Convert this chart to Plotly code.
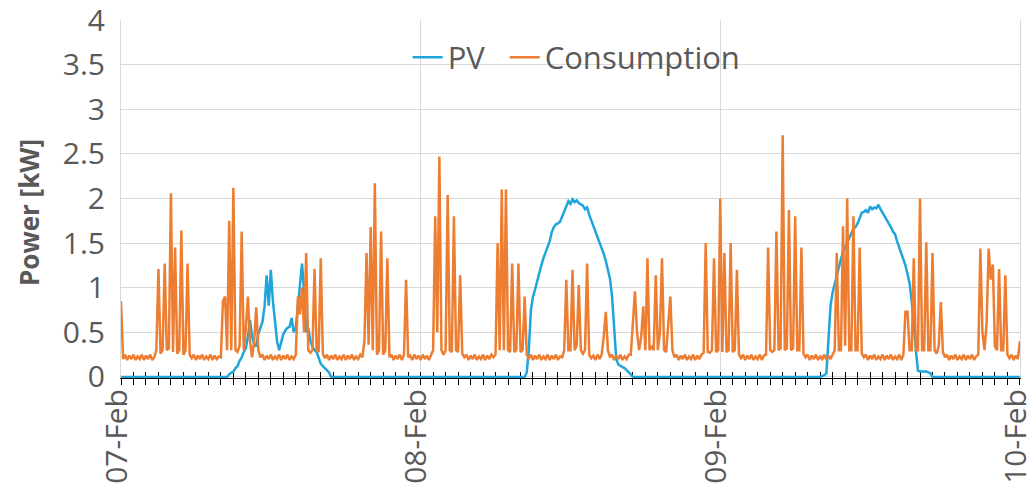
import pandas as pd
import plotly.graph_objects as go

# 10-minute samples from 07-Feb 00:00 to 10-Feb 00:00
times = pd.date_range("2021-02-07 00:00", "2021-02-10 00:00", freq="10min")

# Consumption [kW], one row per hour (6 values)
consumption = [
    # 07-Feb
    0.85, 0.20, 0.25, 0.19, 0.24, 0.20,
    0.25, 0.19, 0.23, 0.20, 0.25, 0.19,
    0.24, 0.20, 0.25, 0.19, 0.22, 0.30,
    1.21, 0.26, 0.30, 1.27, 0.30, 0.32,
    2.06, 0.28, 1.45, 0.26, 0.30, 1.64,
    0.25, 0.30, 1.27, 0.25, 0.21, 0.25,
    0.19, 0.24, 0.20, 0.25, 0.19, 0.23,
    0.20, 0.25, 0.19, 0.24, 0.20, 0.23,
    0.22, 0.85, 0.90, 0.30, 1.75, 0.30,
    2.12, 0.30, 0.28, 0.35, 1.63, 0.30,
    0.55, 0.90, 0.40, 0.22, 0.40, 0.78,
    0.30, 0.22, 0.25, 0.19, 0.24, 0.20,
    0.25, 0.19, 0.23, 0.20, 0.25, 0.19,
    0.24, 0.20, 0.25, 0.19, 0.23, 0.20,
    0.25, 0.90, 0.70, 1.00, 0.50, 1.39,
    0.30, 0.27, 0.30, 1.21, 0.30, 0.28,
    1.33, 0.26, 0.21, 0.25, 0.19, 0.24,
    0.20, 0.25, 0.19, 0.23, 0.20, 0.25,
    0.19, 0.24, 0.20, 0.25, 0.19, 0.23,
    0.20, 0.25, 0.22, 0.40, 1.39, 0.36,
    1.68, 0.30, 2.17, 0.25, 0.30, 1.63,
    0.25, 0.30, 1.33, 0.22, 0.25, 0.19,
    0.24, 0.20, 0.25, 0.19, 0.25, 1.09,
    0.22, 0.24, 0.19, 0.25, 0.20, 0.24,
    # 08-Feb
    0.19, 0.25, 0.20, 0.24, 0.19, 0.25,
    0.30, 1.80, 0.50, 2.47, 0.30, 0.25,
    0.30, 2.04, 0.30, 0.28, 1.80, 0.30,
    0.28, 1.14, 0.26, 0.22, 0.25, 0.19,
    0.24, 0.20, 0.25, 0.19, 0.23, 0.20,
    0.25, 0.19, 0.24, 0.20, 0.25, 0.22,
    0.25, 1.50, 0.30, 2.10, 0.30, 2.10,
    0.30, 0.28, 1.27, 0.28, 0.30, 1.27,
    0.28, 0.30, 0.90, 0.25, 0.21, 0.25,
    0.19, 0.24, 0.20, 0.25, 0.19, 0.23,
    0.20, 0.25, 0.19, 0.24, 0.20, 0.25,
    0.19, 0.23, 0.22, 0.30, 1.09, 0.30,
    0.30, 1.20, 0.30, 0.35, 1.03, 0.30,
    0.26, 0.30, 1.27, 0.25, 0.21, 0.24,
    0.19, 0.25, 0.20, 0.25, 0.45, 0.73,
    0.30, 0.22, 0.25, 0.19, 0.24, 0.20,
    0.25, 0.19, 0.23, 0.20, 0.25, 0.25,
    0.60, 0.96, 0.50, 0.30, 0.45, 0.79,
    0.30, 1.33, 0.30, 0.35, 0.30, 1.14,
    0.30, 0.50, 1.33, 0.30, 0.28, 0.60,
    0.90, 0.30, 0.22, 0.25, 0.19, 0.24,
    0.20, 0.25, 0.19, 0.23, 0.20, 0.25,
    0.19, 0.24, 0.20, 0.25, 0.27, 1.50,
    0.28, 0.27, 0.30, 1.33, 0.28, 0.30,
    # 09-Feb
    2.00, 0.28, 1.39, 0.28, 0.30, 1.50,
    0.28, 0.30, 1.20, 0.25, 0.21, 0.25,
    0.19, 0.24, 0.20, 0.25, 0.19, 0.23,
    0.20, 0.25, 0.19, 0.24, 0.25, 1.45,
    0.30, 0.28, 0.30, 1.63, 0.30, 0.32,
    2.71, 0.30, 0.32, 1.87, 0.30, 0.32,
    1.80, 0.30, 0.30, 1.45, 0.26, 0.22,
    0.25, 0.19, 0.24, 0.20, 0.25, 0.19,
    0.23, 0.20, 0.25, 0.19, 0.24, 0.20,
    0.25, 0.30, 1.39, 0.30, 0.30, 1.69,
    0.35, 2.00, 0.30, 0.30, 1.80, 0.30,
    0.30, 1.45, 0.26, 0.22, 0.25, 0.19,
    0.24, 0.20, 0.25, 0.19, 0.23, 0.20,
    0.25, 0.19, 0.24, 0.20, 0.25, 0.19,
    0.23, 0.20, 0.25, 0.19, 0.25, 0.73,
    0.73, 0.30, 0.30, 1.33, 0.30, 0.30,
    2.00, 0.30, 0.30, 1.51, 0.30, 0.30,
    1.39, 0.30, 0.26, 0.35, 0.84, 0.28,
    0.22, 0.25, 0.19, 0.24, 0.20, 0.25,
    0.19, 0.23, 0.20, 0.25, 0.19, 0.24,
    0.20, 0.25, 0.19, 0.23, 0.25, 1.44,
    0.50, 0.30, 0.60, 1.44, 1.09, 1.26,
    0.34, 0.30, 1.21, 0.30, 0.30, 1.14,
    0.25, 0.21, 0.25, 0.19, 0.24, 0.20,
    # 10-Feb 00:00
    0.40,
]

# PV generation [kW], one row per hour (6 values)
pv = [
    # 07-Feb
    0, 0, 0, 0, 0, 0,
    0, 0, 0, 0, 0, 0,
    0, 0, 0, 0, 0, 0,
    0, 0, 0, 0, 0, 0,
    0, 0, 0, 0, 0, 0,
    0, 0, 0, 0, 0, 0,
    0, 0, 0, 0, 0, 0,
    0, 0, 0, 0, 0, 0,
    0, 0, 0, 0, 0.03, 0.05,
    0.06, 0.10, 0.12, 0.18, 0.22, 0.28,
    0.32, 0.45, 0.64, 0.45, 0.37, 0.34,
    0.48, 0.55, 0.62, 0.79, 1.14, 0.80,
    1.20, 0.85, 0.60, 0.40, 0.30, 0.38,
    0.48, 0.52, 0.55, 0.56, 0.66, 0.50,
    0.55, 0.79, 1.05, 1.27, 0.95, 0.50,
    0.55, 0.40, 0.34, 0.30, 0.28, 0.20,
    0.15, 0.12, 0.10, 0.08, 0.05, 0,
    0, 0, 0, 0, 0, 0,
    0, 0, 0, 0, 0, 0,
    0, 0, 0, 0, 0, 0,
    0, 0, 0, 0, 0, 0,
    0, 0, 0, 0, 0, 0,
    0, 0, 0, 0, 0, 0,
    0, 0, 0, 0, 0, 0,
    # 08-Feb
    0, 0, 0, 0, 0, 0,
    0, 0, 0, 0, 0, 0,
    0, 0, 0, 0, 0, 0,
    0, 0, 0, 0, 0, 0,
    0, 0, 0, 0, 0, 0,
    0, 0, 0, 0, 0, 0,
    0, 0, 0, 0, 0, 0,
    0, 0, 0, 0, 0, 0,
    0, 0, 0, 0.05, 0.30, 0.75,
    0.90, 0.98, 1.08, 1.18, 1.25, 1.33,
    1.40, 1.45, 1.52, 1.62, 1.68, 1.71,
    1.72, 1.74, 1.80, 1.86, 1.90, 1.97,
    1.94, 1.99, 1.96, 1.98, 1.95, 1.93,
    1.92, 1.88, 1.90, 1.82, 1.76, 1.70,
    1.64, 1.58, 1.50, 1.45, 1.38, 1.30,
    1.20, 1.10, 0.90, 0.60, 0.20, 0.14,
    0.12, 0.11, 0.10, 0.08, 0.06, 0.03,
    0, 0, 0, 0, 0, 0,
    0, 0, 0, 0, 0, 0,
    0, 0, 0, 0, 0, 0,
    0, 0, 0, 0, 0, 0,
    0, 0, 0, 0, 0, 0,
    0, 0, 0, 0, 0, 0,
    0, 0, 0, 0, 0, 0,
    # 09-Feb
    0, 0, 0, 0, 0, 0,
    0, 0, 0, 0, 0, 0,
    0, 0, 0, 0, 0, 0,
    0, 0, 0, 0, 0, 0,
    0, 0, 0, 0, 0, 0,
    0, 0, 0, 0, 0, 0,
    0, 0, 0, 0, 0, 0,
    0, 0, 0, 0, 0, 0,
    0, 0.01, 0.02, 0.04, 0.50, 0.80,
    0.95, 1.05, 1.15, 1.25, 1.32, 1.40,
    1.45, 1.50, 1.57, 1.62, 1.66, 1.68,
    1.72, 1.78, 1.84, 1.85, 1.87, 1.84,
    1.91, 1.88, 1.90, 1.89, 1.93, 1.88,
    1.84, 1.80, 1.77, 1.72, 1.68, 1.63,
    1.60, 1.52, 1.45, 1.38, 1.30, 1.25,
    1.15, 1.05, 0.85, 0.55, 0.30, 0.07,
    0.06, 0.06, 0.06, 0.06, 0.05, 0.04,
    0, 0, 0, 0, 0, 0,
    0, 0, 0, 0, 0, 0,
    0, 0, 0, 0, 0, 0,
    0, 0, 0, 0, 0, 0,
    0, 0, 0, 0, 0, 0,
    0, 0, 0, 0, 0, 0,
    0, 0, 0, 0, 0, 0,
    # 10-Feb 00:00
    0,
]

series_names = ["PV", "Consumption"]
x_range = ["2021-02-07 00:00:00", "2021-02-10 00:00:30"]
y_range = [-0.012, 4.001]
y_title = "Power [kW]"

BLUE = "#1ea5dc"
ORANGE = "#ed7d31"
GREY_TEXT = "#595959"
GRID = "#d9d9d9"
FONT = "Open Sans"

fig = go.Figure()
fig.add_trace(go.Scatter(x=times, y=pv, name=series_names[0], mode="lines",
                         line=dict(color=BLUE, width=2.5), legend="legend"))
fig.add_trace(go.Scatter(x=times, y=consumption, name=series_names[1], mode="lines",
                         line=dict(color=ORANGE, width=2.5), legend="legend2"))
# helper trace so the second (inside-tick) x axis is drawn
fig.add_trace(go.Scatter(x=times[:1], y=pv[:1], xaxis="x2", mode="lines",
                         line=dict(width=0), showlegend=False, hoverinfo="skip"))

legend_common = dict(orientation="h", y=0.895, yanchor="middle", xanchor="left",
                     bgcolor="rgba(0,0,0,0)", font=dict(size=31, color=GREY_TEXT),
                     itemwidth=30)

fig.update_layout(
    width=1034, height=490,
    margin=dict(l=121, r=14, t=20, b=112),
    paper_bgcolor="white", plot_bgcolor="white",
    font=dict(family=FONT, color=GREY_TEXT),
    showlegend=True,
    legend=dict(x=0.3189, **legend_common),
    legend2=dict(x=0.4268, **legend_common),
    xaxis=dict(type="date", range=x_range, tick0="2021-02-07", dtick=86400000,
               tickformat="%d-%b", tickangle=-90, automargin=False,
               tickfont=dict(size=30, color=GREY_TEXT),
               ticklabelstandoff=-8, ticklabelshift=-4, ticklabeloverflow="allow",
               showgrid=True, gridcolor=GRID, gridwidth=1,
               showline=True, linecolor="black", linewidth=1.3,
               ticks="outside", ticklen=6, tickcolor="black", tickwidth=1.3,
               minor=dict(dtick=3600000, ticks="outside", ticklen=6,
                          tickcolor="black", tickwidth=1.3, showgrid=False),
               layer="below traces", zeroline=False),
    xaxis2=dict(type="date", range=x_range, overlaying="x", anchor="y", side="bottom",
                tick0="2021-02-07", dtick=86400000, showticklabels=False,
                showgrid=False, showline=False, automargin=False,
                ticks="inside", ticklen=6, tickcolor="black", tickwidth=1.3,
                minor=dict(dtick=3600000, ticks="inside", ticklen=6,
                           tickcolor="black", tickwidth=1.3, showgrid=False),
                layer="below traces", zeroline=False),
    yaxis=dict(range=y_range, dtick=0.5, tick0=0, automargin=False,
               tickfont=dict(size=30, color=GREY_TEXT),
               showgrid=True, gridcolor=GRID, gridwidth=1,
               showline=True, mirror=True, linecolor=GRID, linewidth=1,
               ticks="", ticklabelstandoff=9, ticklabeloverflow="allow",
               zeroline=False, layer="below traces"),
    annotations=[dict(text=y_title, textangle=-90, xref="paper", yref="paper",
                      x=-0.103, y=0.462, xanchor="center", yanchor="middle",
                      showarrow=False,
                      font=dict(size=26, color=GREY_TEXT, family=FONT, weight="bold"))],
)

fig.write_html("out.html")
